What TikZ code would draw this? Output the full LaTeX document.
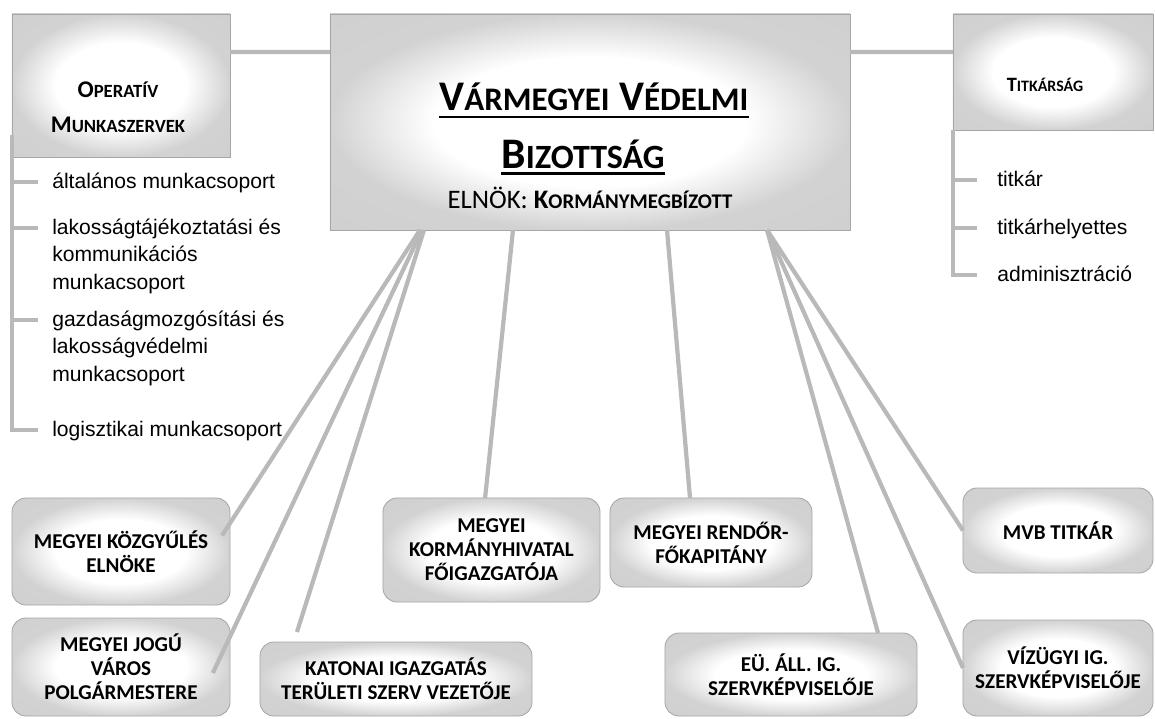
\documentclass[tikz,border=0pt]{standalone}
\usepackage{fontspec}
\setmainfont{Liberation Sans}
\newfontfamily\calfont{Carlito}
\usetikzlibrary{positioning}

\pgfdeclareradialshading{boxglow}{\pgfpoint{0bp}{0bp}}{color(0bp)=(white); color(15bp)=(white); color(25bp)=(gray!35); color(50bp)=(gray!40)}
\newcommand{\lowsc}[1]{{\fontsize{0.78em}{1em}\selectfont #1}}

\begin{document}
\begin{tikzpicture}[
        x=0.025cm, y=-0.025cm,
        box/.style={shade, shading=boxglow, draw=gray!70, line width=0.6pt, inner sep=0pt, outer sep=0pt},
        leaf/.style={box, rounded corners=10pt, align=center, font=\calfont\bfseries\fontsize{15}{17}\selectfont},
        conn/.style={draw=gray!55, line width=3pt},
        tick/.style={draw=gray!55, line width=2.4pt},
        item/.style={anchor=north west, inner sep=0pt, align=left, font=\fontsize{15}{19.5}\selectfont},
        uline/.style={line width=2pt}
    ]
        \useasboundingbox (0,0) rectangle (1155,718);

        % Top row
        \node[box, minimum width=5.45cm, minimum height=3.575cm] (oper) at (121,85.5) {};
        \node[box, minimum width=13cm, minimum height=5.4cm] (vvb) at (590,122) {};
        \node[box, minimum width=5cm, minimum height=2.9cm] (titk) at (1053,72) {};

        \node[align=center, font=\calfont\bfseries\fontsize{17}{25}\selectfont] (opertxt) at (118,107) {O\lowsc{PERATÍV}\\M\lowsc{UNKASZERVEK}};
        \node[font=\calfont\bfseries\fontsize{14.5}{18}\selectfont] (titktxt) at (1045,85) {T\lowsc{ITKÁRSÁG}};

        \node[anchor=base, inner sep=0pt, font=\calfont\bfseries\fontsize{30}{36}\selectfont] (vvb1) at (594,110) {V\lowsc{ÁRMEGYEI} V\lowsc{ÉDELMI}};
        \node[anchor=base, inner sep=0pt, font=\calfont\bfseries\fontsize{31}{36}\selectfont] (vvb2) at (583,168) {B\lowsc{IZOTTSÁG}};
        \node[anchor=base, inner sep=0pt, font=\calfont\fontsize{19}{23}\selectfont] (elnok) at (590,208) {ELNÖK: \textbf{K\lowsc{ORMÁNYMEGBÍZOTT}}};
        \draw[uline] ([yshift=-5pt]vvb1.base west) -- ([yshift=-5pt]vvb1.base east);
        \draw[uline] ([yshift=-4pt]vvb2.base west) -- ([yshift=-4pt]vvb2.base east);

        % Bottom boxes
        \node[leaf, minimum width=5.45cm, minimum height=2.675cm] (kozgy) at (121,551.5) {MEGYEI KÖZGYŰLÉS\\ELNÖKE};
        \node[leaf, minimum width=5.45cm, minimum height=2.45cm] (jogu) at (121,667) {MEGYEI JOGÚ\\VÁROS\\POLGÁRMESTERE};
        \node[leaf, minimum width=5.425cm, minimum height=2.6cm] (kormhiv) at (491.5,550) {MEGYEI\\KORMÁNYHIVATAL\\FŐIGAZGATÓJA};
        \node[leaf, minimum width=6.8cm, minimum height=1.85cm] (katonai) at (396,679) {KATONAI IGAZGATÁS\\TERÜLETI SZERV VEZETŐJE};
        \node[leaf, minimum width=5.05cm, minimum height=2.225cm] (rendor) at (711,542.5) {MEGYEI RENDŐR-\\FŐKAPITÁNY};
        \node[leaf, minimum width=6.3cm, minimum height=2.075cm] (eu) at (791,674.5) {EÜ. ÁLL. IG.\\SZERVKÉPVISELŐJE};
        \node[leaf, minimum width=4.75cm, minimum height=2.125cm] (mvb) at (1058,530.5) {MVB TITKÁR};
        \node[leaf, minimum width=4.75cm, minimum height=2.4cm] (vizugy) at (1058,668) {VÍZÜGYI IG.\\SZERVKÉPVISELŐJE};

        % Lists
        \node[item] (oi1) at (52,169) {\strut általános munkacsoport};
        \node[item] (oi2) at (52,215) {\strut lakosságtájékoztatási és\\kommunikációs\\munkacsoport};
        \node[item] (oi3) at (52,307) {\strut gazdaságmozgósítási és\\lakosságvédelmi\\munkacsoport};
        \node[item] (oi4) at (52,417) {\strut logisztikai munkacsoport};
        \node[item] (ti1) at (997,167) {\strut titkár};
        \node[item] (ti2) at (997,215) {\strut titkárhelyettes};
        \node[item] (ti3) at (997,262) {\strut adminisztráció};

        \draw[tick] ([yshift=0.55cm]oper.south west) |- ([shift={(-0.35cm,-0.325cm)}]oi4.north west);
        \draw[tick] ([shift={(-0.35cm,-0.325cm)}]oi1.north west) -- ++(-26,0);
        \draw[tick] ([shift={(-0.35cm,-0.325cm)}]oi2.north west) -- ++(-26,0);
        \draw[tick] ([shift={(-0.35cm,-0.325cm)}]oi3.north west) -- ++(-26,0);
        \draw[tick] (titk.south west) |- ([shift={(-0.5cm,-0.325cm)}]ti3.north west);
        \draw[tick] ([shift={(-0.5cm,-0.325cm)}]ti1.north west) -- ++(-24,0);
        \draw[tick] ([shift={(-0.5cm,-0.325cm)}]ti2.north west) -- ++(-24,0);

        % Connectors
        \draw[conn] ([yshift=-0.95cm]oper.north east) -- ([yshift=-0.95cm]vvb.north west);
        \draw[conn] ([yshift=-0.95cm]vvb.north east) -- ([yshift=-0.95cm]titk.north west);
        \draw[conn] ([xshift=-4.25cm]vvb.south) -- ([shift={(-0.2cm,0.4cm)}]kozgy.east);
        \draw[conn] ([xshift=-4.2cm]vvb.south) -- ([shift={(-0.43cm,-0.15cm)}]jogu.east);
        \draw[conn] ([xshift=-4.15cm]vvb.south) -- ([shift={(-2.475cm,0.25cm)}]katonai.north);
        \draw[conn] ([xshift=-1.925cm]vvb.south) -- ([xshift=-0.16cm]kormhiv.north);
        \draw[conn] ([xshift=1.925cm]vvb.south) -- ([xshift=-0.525cm]rendor.north);
        \draw[conn] ([xshift=4.425cm]vvb.south) -- ([xshift=2.175cm]eu.north);
        \draw[conn] ([xshift=4.425cm]vvb.south) -- (vizugy.west);
        \draw[conn] ([xshift=4.425cm]vvb.south) -- (mvb.west);
    \end{tikzpicture}
\end{document}
